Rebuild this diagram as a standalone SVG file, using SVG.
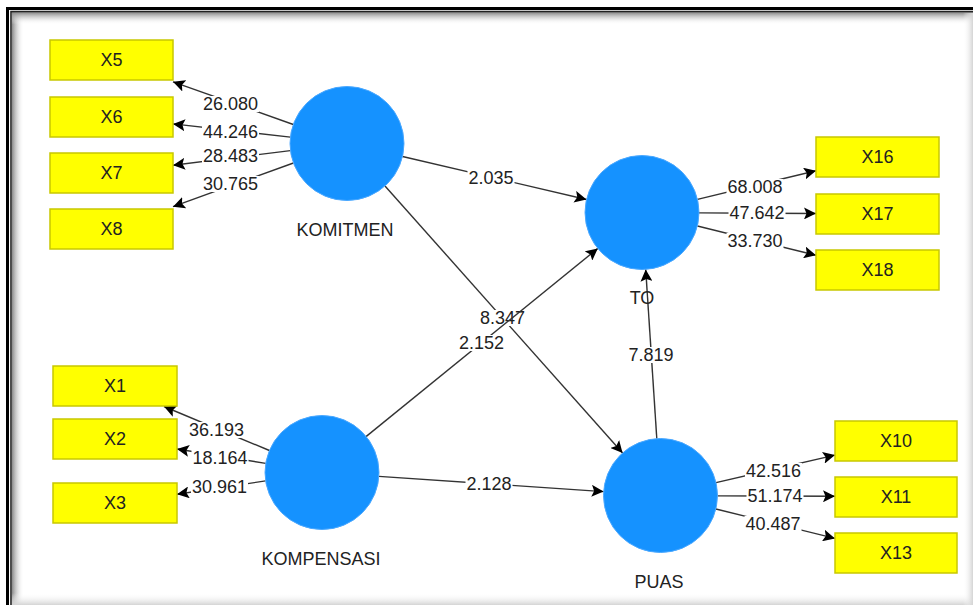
<svg xmlns="http://www.w3.org/2000/svg" width="973" height="605" viewBox="0 0 973 605">
  <defs>
    <marker id="arrow" markerUnits="userSpaceOnUse" markerWidth="13" markerHeight="12" refX="12" refY="6" orient="auto">
      <path d="M0,0 L12,6 L0,12 L2.5,6 z" fill="#000"/>
    </marker>
    <linearGradient id="shadeLeft" x1="0" y1="0" x2="1" y2="0">
      <stop offset="0" stop-color="#8a8a8a"/>
      <stop offset="1" stop-color="#ffffff" stop-opacity="0"/>
    </linearGradient>
    <linearGradient id="shadeTop" x1="0" y1="0" x2="0" y2="1">
      <stop offset="0" stop-color="#8a8a8a"/>
      <stop offset="1" stop-color="#ffffff" stop-opacity="0"/>
    </linearGradient>
    <linearGradient id="shadeBottom" x1="0" y1="0" x2="0" y2="1">
      <stop offset="0" stop-color="#ffffff" stop-opacity="0"/>
      <stop offset="1" stop-color="#d4d4d4"/>
    </linearGradient>
    <linearGradient id="shadeRight" x1="0" y1="0" x2="1" y2="0">
      <stop offset="0" stop-color="#ffffff" stop-opacity="0"/>
      <stop offset="1" stop-color="#d4d4d4"/>
    </linearGradient>
  </defs>
  <style>
    .ind rect { fill: #ffff00; stroke: #c8c800; stroke-width: 1.5; }
    .ind text, .lat text { font-family: "Liberation Sans", Arial, sans-serif; font-size: 18px; fill: #222; text-anchor: middle; }
    .lat circle { fill: #1592ff; stroke: #4aa8ff; stroke-width: 1; }
    .edge line { stroke: #333; stroke-width: 1.4; }
    .arr { marker-end: url(#arrow); }
    .val rect { fill: #fff; }
    .val text { font-family: "Liberation Sans", Arial, sans-serif; font-size: 18px; fill: #222; text-anchor: middle; }
  </style>

  <!-- canvas and window frame -->
  <rect x="0" y="0" width="973" height="605" fill="#fff"/>
  <rect x="12" y="12.5" width="12" height="593" fill="url(#shadeLeft)"/>
  <rect x="12" y="12.5" width="961" height="12" fill="url(#shadeTop)"/>
  <rect x="12" y="593" width="961" height="12" fill="url(#shadeBottom)"/>
  <rect x="963" y="12.5" width="10" height="593" fill="url(#shadeRight)"/>
  <path d="M7.5,605 V8.5 H973" fill="none" stroke="#000" stroke-width="3"/>
  <path d="M11,605 V11.6 H973" fill="none" stroke="#222" stroke-width="1.6"/>

  <!-- connectors -->
  <g id="connectors">
    <!-- KOMITMEN loadings -->
    <g class="edge"><line class="arr" x1="293.3" y1="124.5" x2="173" y2="81.8"/></g>
    <g class="val"><rect x="202" y="96" width="57" height="16"/><text x="230.5" y="110.4">26.080</text></g>
    <g class="edge"><line class="arr" x1="290.4" y1="137.1" x2="173" y2="123.9"/></g>
    <g class="val"><rect x="202" y="124" width="57" height="16"/><text x="230.5" y="138.4">44.246</text></g>
    <g class="edge"><line class="arr" x1="290.4" y1="150.6" x2="173" y2="165.3"/></g>
    <g class="val"><rect x="202" y="148" width="57" height="16"/><text x="230.5" y="162.4">28.483</text></g>
    <g class="edge"><line class="arr" x1="293.4" y1="163" x2="173" y2="206.7"/></g>
    <g class="val"><rect x="202" y="176" width="57" height="16"/><text x="230.5" y="190.4">30.765</text></g>

    <!-- KOMPENSASI loadings -->
    <g class="edge"><line class="arr" x1="269.4" y1="450.5" x2="164" y2="406.5"/></g>
    <g class="val"><rect x="188" y="422" width="57" height="16"/><text x="216.5" y="436.4">36.193</text></g>
    <g class="edge"><line class="arr" x1="265.7" y1="463.4" x2="177" y2="449"/></g>
    <g class="val"><rect x="191.5" y="450" width="57" height="16"/><text x="220" y="464.4">18.164</text></g>
    <g class="edge"><line class="arr" x1="265.6" y1="480.9" x2="177" y2="494.2"/></g>
    <g class="val"><rect x="191" y="479" width="57" height="16"/><text x="219.5" y="493.4">30.961</text></g>

    <!-- TO loadings -->
    <g class="edge"><line class="arr" x1="697.5" y1="199.4" x2="816" y2="170.7"/></g>
    <g class="val"><rect x="726.5" y="179" width="57" height="16"/><text x="755" y="193.4">68.008</text></g>
    <g class="edge"><line class="arr" x1="699" y1="212.9" x2="816" y2="213.5"/></g>
    <g class="val"><rect x="728.5" y="205" width="57" height="16"/><text x="757" y="219.4">47.642</text></g>
    <g class="edge"><line class="arr" x1="697.4" y1="226" x2="816" y2="255.3"/></g>
    <g class="val"><rect x="726.5" y="233" width="57" height="16"/><text x="755" y="247.4">33.730</text></g>

    <!-- PUAS loadings -->
    <g class="edge"><line class="arr" x1="716" y1="482.6" x2="835" y2="455.1"/></g>
    <g class="val"><rect x="745" y="463" width="57" height="16"/><text x="773.5" y="477.4">42.516</text></g>
    <g class="edge"><line class="arr" x1="717.5" y1="495.9" x2="835" y2="496.3"/></g>
    <g class="val"><rect x="746.5" y="488" width="57" height="16"/><text x="775" y="502.4">51.174</text></g>
    <g class="edge"><line class="arr" x1="715.9" y1="509" x2="835" y2="538.4"/></g>
    <g class="val"><rect x="744.5" y="516" width="57" height="16"/><text x="773" y="530.4">40.487</text></g>

    <!-- structural paths -->
    <g class="edge"><line class="arr" x1="402.5" y1="156.5" x2="586.5" y2="199.5"/></g>
    <g class="val"><rect x="467.5" y="170" width="47" height="16"/><text x="491" y="184.4">2.035</text></g>
    <g class="edge"><line class="arr" x1="385" y1="186" x2="622.6" y2="453"/></g>
    <g class="val"><rect x="479" y="310" width="47" height="16"/><text x="502.5" y="324.4">8.347</text></g>
    <g class="edge"><line class="arr" x1="366" y1="436.6" x2="597.8" y2="248.4"/></g>
    <g class="val"><rect x="458" y="335" width="47" height="16"/><text x="481.5" y="349.4">2.152</text></g>
    <g class="edge"><line class="arr" x1="378.9" y1="476.4" x2="603.6" y2="491.6"/></g>
    <g class="val"><rect x="465.5" y="476" width="47" height="16"/><text x="489" y="490.4">2.128</text></g>
    <g class="edge"><line class="arr" x1="656.8" y1="438.6" x2="645.7" y2="269.4"/></g>
    <g class="val"><rect x="627.5" y="347" width="47" height="16"/><text x="651" y="361.4">7.819</text></g>
  </g>

  <!-- latent variables -->
  <g id="komitmen" class="lat"><circle cx="347" cy="143.5" r="57"/><text x="345" y="236.4">KOMITMEN</text></g>
  <g id="kompensasi" class="lat"><circle cx="322" cy="472.5" r="57"/><text x="321" y="565.4">KOMPENSASI</text></g>
  <g id="to" class="lat"><circle cx="642" cy="212.5" r="57"/><text x="642" y="304.4">TO</text></g>
  <g id="puas" class="lat"><circle cx="660.5" cy="495.5" r="57"/><text x="659" y="588.4">PUAS</text></g>

  <!-- indicators -->
  <g id="x5" class="ind"><rect x="50" y="40" width="123" height="40"/><text x="111.5" y="66.4">X5</text></g>
  <g id="x6" class="ind"><rect x="50" y="97" width="123" height="40"/><text x="111.5" y="123.4">X6</text></g>
  <g id="x7" class="ind"><rect x="50" y="153" width="123" height="40"/><text x="111.5" y="179.4">X7</text></g>
  <g id="x8" class="ind"><rect x="50" y="209" width="123" height="40"/><text x="111.5" y="235.4">X8</text></g>
  <g id="x1" class="ind"><rect x="53" y="366" width="124" height="40"/><text x="115" y="392.4">X1</text></g>
  <g id="x2" class="ind"><rect x="53" y="419" width="124" height="40"/><text x="115" y="445.4">X2</text></g>
  <g id="x3" class="ind"><rect x="53" y="483" width="124" height="40"/><text x="115" y="509.4">X3</text></g>
  <g id="x16" class="ind"><rect x="816" y="137" width="123" height="40"/><text x="877.5" y="163.4">X16</text></g>
  <g id="x17" class="ind"><rect x="816" y="194" width="123" height="40"/><text x="877.5" y="220.4">X17</text></g>
  <g id="x18" class="ind"><rect x="816" y="250" width="123" height="40"/><text x="877.5" y="276.4">X18</text></g>
  <g id="x10" class="ind"><rect x="835" y="421" width="122" height="40"/><text x="896" y="447.4">X10</text></g>
  <g id="x11" class="ind"><rect x="835" y="477" width="122" height="40"/><text x="896" y="503.4">X11</text></g>
  <g id="x13" class="ind"><rect x="835" y="533" width="122" height="40"/><text x="896" y="559.4">X13</text></g>
</svg>
